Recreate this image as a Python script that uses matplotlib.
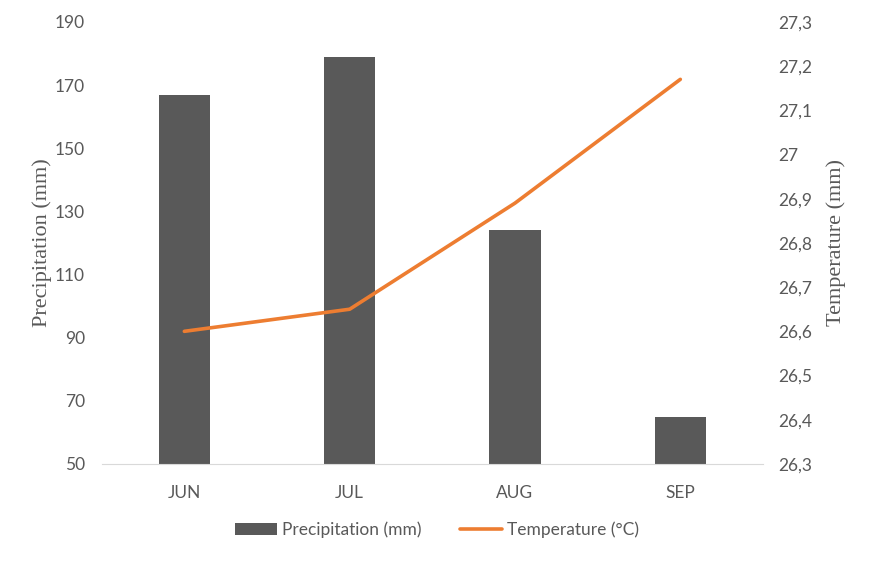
import numpy as np
import matplotlib.pyplot as plt

months = ['JUN', 'JUL', 'AUG', 'SEP']
precip = [167, 179, 124, 65]
temp = [26.60, 26.65, 26.89, 27.17]

grey = '#595959'
orange = '#ED7D31'

fig = plt.figure(figsize=(8.69, 5.61), dpi=100)
ax = fig.add_axes([0.117, 0.173, 0.761, 0.788])
ax2 = ax.twinx()

x = np.arange(len(months))
b = ax.bar(x, precip, width=0.31, color=grey, label='Precipitation (mm)', zorder=2)
l, = ax2.plot(x, temp, color=orange, lw=2.6, label='Temperature (°C)', solid_capstyle='round')

ax.set_xlim(-0.5, 3.5)
ax.set_ylim(50, 190)
ax.set_yticks(np.arange(50, 191, 20))
ax2.set_ylim(26.3, 27.3)
t2 = np.round(np.arange(26.3, 27.31, 0.1), 1)
ax2.set_yticks(t2)
ax2.set_yticklabels([('%g' % v).replace('.', ',') for v in t2])

ax.set_xticks(x)
ax.set_xticklabels(months)

for a in (ax, ax2):
    for s in a.spines.values():
        s.set_visible(False)
    a.tick_params(length=0, colors=grey, labelsize=12.5)
    for lab in a.get_xticklabels() + a.get_yticklabels():
        lab.set_family('Lato')
ax.spines['bottom'].set_visible(True)
ax.spines['bottom'].set_color('#d9d9d9')
ax.tick_params(axis='y', pad=12)
ax.tick_params(axis='x', pad=15)
ax2.tick_params(axis='y', pad=11)

ax.set_ylabel('Precipitation (mm)', family='Liberation Serif', fontsize=16, color=grey, labelpad=2)
ax2.set_ylabel('Temperature (mm)', family='Liberation Serif', fontsize=16, color=grey, labelpad=10)

fig.legend(handles=[b, l], loc='center', bbox_to_anchor=(0.503, 0.055), ncol=2, frameon=False,
           prop={'family': 'Lato', 'size': 12.5}, labelcolor=grey, handlelength=2.4,
           handletextpad=0.3, columnspacing=2.2)

fig.savefig('out.png', dpi=100)
